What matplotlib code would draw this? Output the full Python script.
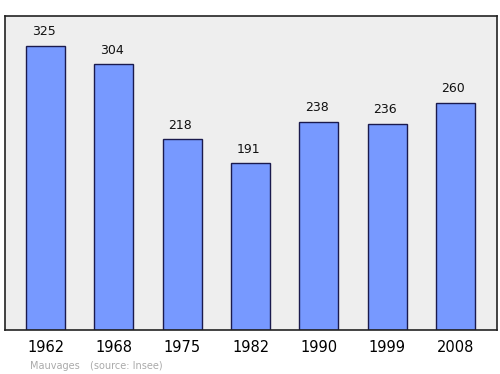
import matplotlib.pyplot as plt

years = ['1962', '1968', '1975', '1982', '1990', '1999', '2008']
population = [325, 304, 218, 191, 238, 236, 260]

fig = plt.figure(figsize=(5.0, 3.74), dpi=100)
ax = fig.add_axes([5 / 500, 44 / 374, 492 / 500, 314 / 374])
ax.set_facecolor('#eeeeee')

x = list(range(len(years)))
ax.bar(x, population, width=0.57, color='#7799ff', edgecolor='#1a1a4d', linewidth=1)

for xi, v in zip(x, population):
    ax.text(xi - 0.03, v + 8.5, str(v), ha='center', va='bottom', fontsize=9, color='#111111')

ax.set_xlim(-0.593, 6.607)
ax.set_ylim(0, 359)
ax.set_yticks([])
ax.set_xticks(x)
ax.set_xticklabels(years, fontsize=10.5)
ax.tick_params(axis='x', length=0, pad=7)
for s in ax.spines.values():
    s.set_linewidth(1.2)
    s.set_color('#222222')

fig.text(30 / 500, 1 - 366 / 374, 'Mauvages', fontsize=7, color='#aaaaaa', va='center')
fig.text(90 / 500, 1 - 366 / 374, '(source: Insee)', fontsize=7, color='#aaaaaa', va='center')

fig.savefig('out.png', dpi=100)
